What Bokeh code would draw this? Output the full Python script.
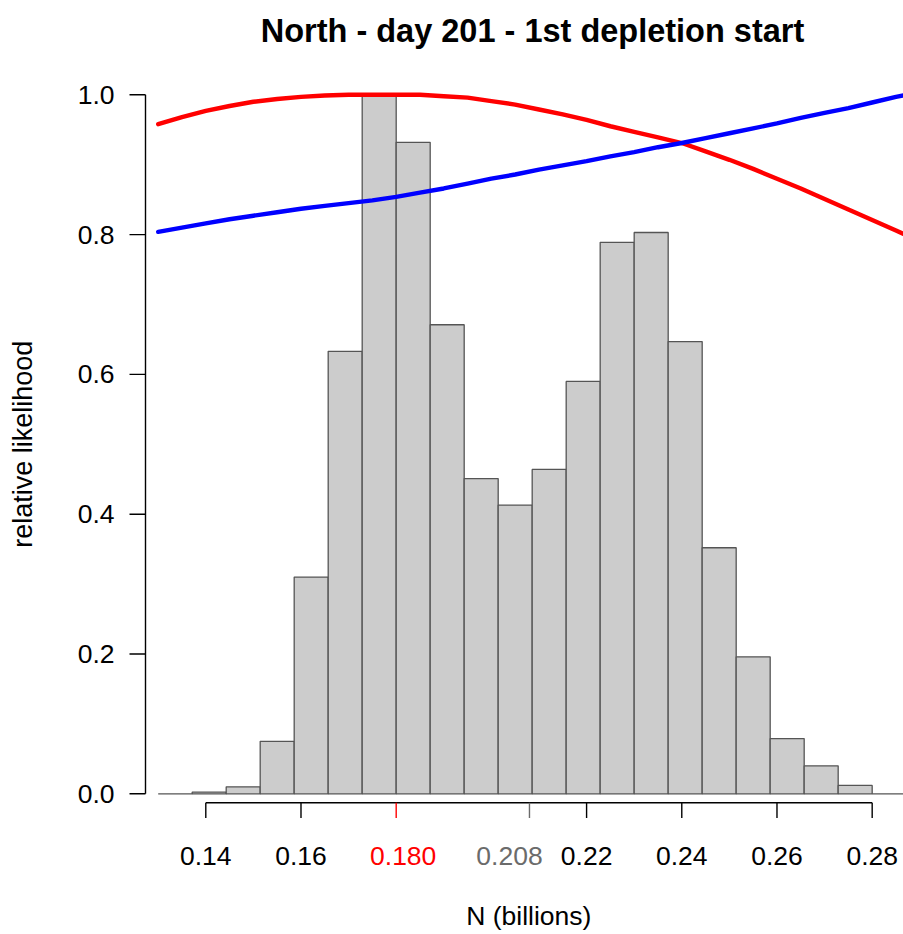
import math
from bokeh.plotting import figure
from bokeh.models import Range1d
from bokeh.core.properties import value
from bokeh.embed import file_html
from bokeh.resources import INLINE

# ---------------- data ----------------
title_text = "North - day 201 - 1st depletion start"
x_label = "N  (billions)"
y_label = "relative likelihood"

# histogram bins (edges) and relative heights
bin_edges = [0.130000, 0.137143, 0.144286, 0.151429, 0.158571, 0.165714,
             0.172857, 0.180000, 0.187143, 0.194286, 0.201429, 0.208571,
             0.215714, 0.222857, 0.230000, 0.237143, 0.244286, 0.251429,
             0.258571, 0.265714, 0.272857, 0.280000, 0.287143]
bin_heights = [0.000, 0.0025, 0.010, 0.075, 0.310, 0.633, 1.000, 0.932,
               0.671, 0.451, 0.413, 0.464, 0.590, 0.789, 0.803, 0.647,
               0.352, 0.196, 0.079, 0.040, 0.012, 0.000]

# likelihood curves
curve_x = [0.130, 0.135, 0.140, 0.145, 0.150, 0.155, 0.160, 0.165, 0.170,
           0.175, 0.180, 0.185, 0.190, 0.195, 0.200, 0.205, 0.210, 0.215,
           0.220, 0.225, 0.230, 0.235, 0.240, 0.245, 0.250, 0.255, 0.260,
           0.265, 0.270, 0.275, 0.280, 0.285, 0.2866]
red_curve = [0.958, 0.968, 0.977, 0.984, 0.990, 0.994, 0.997, 0.999, 1.000,
             1.000, 1.000, 1.000, 0.998, 0.996, 0.991, 0.986, 0.979, 0.972,
             0.964, 0.955, 0.947, 0.939, 0.931, 0.919, 0.907, 0.894, 0.880,
             0.866, 0.851, 0.836, 0.821, 0.806, 0.801]
blue_curve = [0.804, 0.810, 0.816, 0.822, 0.827, 0.832, 0.837, 0.841, 0.845,
              0.849, 0.854, 0.860, 0.866, 0.873, 0.880, 0.886, 0.893, 0.899,
              0.905, 0.912, 0.918, 0.925, 0.931, 0.938, 0.945, 0.952, 0.959,
              0.967, 0.974, 0.981, 0.989, 0.997, 0.999]

# axis ticks
x_ticks_black = [0.14, 0.16, 0.22, 0.24, 0.26, 0.28]
x_labels_black = ["0.14", "0.16", "0.22", "0.24", "0.26", "0.28"]
x_tick_red = [0.180]
x_label_red = ["0.180"]
x_tick_gray = [0.208]
x_label_gray = ["0.208"]
y_ticks = [0.0, 0.2, 0.4, 0.6, 0.8, 1.0]
y_tick_labels = ["0.0", "0.2", "0.4", "0.6", "0.8", "1.0"]

# ---------------- layout ----------------
W, H = 903, 934
X_START, X_END = 0.09687, 0.28658      # whole canvas width
Y_START, Y_END = -0.2013, 1.1349       # whole canvas height
FONT = "Liberation Sans"
FS = "26.5px"
GRAY = "#6b6b6b"


def x_at(px):
    return X_START + px * (X_END - X_START) / W


def y_at(py):
    return Y_END - py * (Y_END - Y_START) / H


p = figure(width=W, height=H, x_range=Range1d(X_START, X_END),
           y_range=Range1d(Y_START, Y_END), x_axis_type=None, y_axis_type=None,
           toolbar_location=None, output_backend="svg", title=None)
p.min_border = 0
p.min_border_left = 0
p.min_border_right = 0
p.min_border_top = 0
p.min_border_bottom = 0
p.outline_line_color = None
p.background_fill_color = "white"
p.border_fill_color = "white"

# histogram
p.quad(left=bin_edges[:-1], right=bin_edges[1:], bottom=0, top=bin_heights,
       fill_color="#cccccc", line_color="#555555", line_width=1.3)

# curves
p.line(curve_x, red_curve, line_color="#ff0000", line_width=4.4, line_cap="round")
p.line(curve_x, blue_curve, line_color="#0000ff", line_width=4.4, line_cap="round")

# ---- y axis ----
y_axis_x = x_at(145)
y_tick_end = x_at(129)
y_label_x = x_at(114)
p.segment(x0=[y_axis_x], x1=[y_axis_x], y0=[min(y_ticks)], y1=[max(y_ticks)],
          line_color="black", line_width=1.4)
p.segment(x0=y_axis_x, x1=y_tick_end, y0=y_ticks, y1=y_ticks,
          line_color="black", line_width=1.4)
p.text(x=y_label_x, y=y_ticks, text=y_tick_labels, text_align="right",
       text_baseline="middle", text_font=value(FONT), text_font_size=FS,
       text_color="black")
p.text(x=[x_at(22)], y=[(min(y_ticks) + max(y_ticks)) / 2], text=[y_label],
       angle=math.pi / 2, text_align="center", text_baseline="middle",
       text_font=value(FONT), text_font_size="27px", text_color="black")

# ---- x axis ----
all_ticks = x_ticks_black + x_tick_red + x_tick_gray
axis_y = y_at(802.3)
tick_end = y_at(817.5)
label_y = y_at(855)
p.segment(x0=[min(all_ticks)], x1=[max(all_ticks)], y0=[axis_y], y1=[axis_y],
          line_color="black", line_width=1.4)
p.segment(x0=x_ticks_black, x1=x_ticks_black, y0=axis_y, y1=tick_end,
          line_color="black", line_width=1.4)
p.segment(x0=x_tick_red, x1=x_tick_red, y0=axis_y, y1=tick_end,
          line_color="#ff0000", line_width=1.4)
p.segment(x0=x_tick_gray, x1=x_tick_gray, y0=axis_y, y1=tick_end,
          line_color=GRAY, line_width=1.4)

p.text(x=x_ticks_black, y=label_y, text=x_labels_black, text_align="center",
       text_baseline="alphabetic", text_font=value(FONT), text_font_size=FS,
       text_color="black")
p.text(x=x_tick_red, y=label_y, text=x_label_red, text_align="center",
       text_baseline="alphabetic", text_font=value(FONT), text_font_size=FS,
       text_color="#ff0000", x_offset=7)
p.text(x=x_tick_gray, y=label_y, text=x_label_gray, text_align="center",
       text_baseline="alphabetic", text_font=value(FONT), text_font_size=FS,
       text_color=GRAY, x_offset=-20)

# ---- title and x label ----
centre_x = x_at(532)
p.text(x=[centre_x], y=[y_at(30.5)], text=[title_text], text_align="center",
       text_baseline="alphabetic", text_font=value(FONT), text_font_size="32.5px",
       text_font_style="bold", text_color="black")
p.text(x=[centre_x], y=[y_at(915.5)], text=[x_label], text_align="center",
       text_baseline="alphabetic", text_font=value(FONT), text_font_size=FS,
       text_color="black")

open("out.html", "w").write(file_html(p, INLINE))
